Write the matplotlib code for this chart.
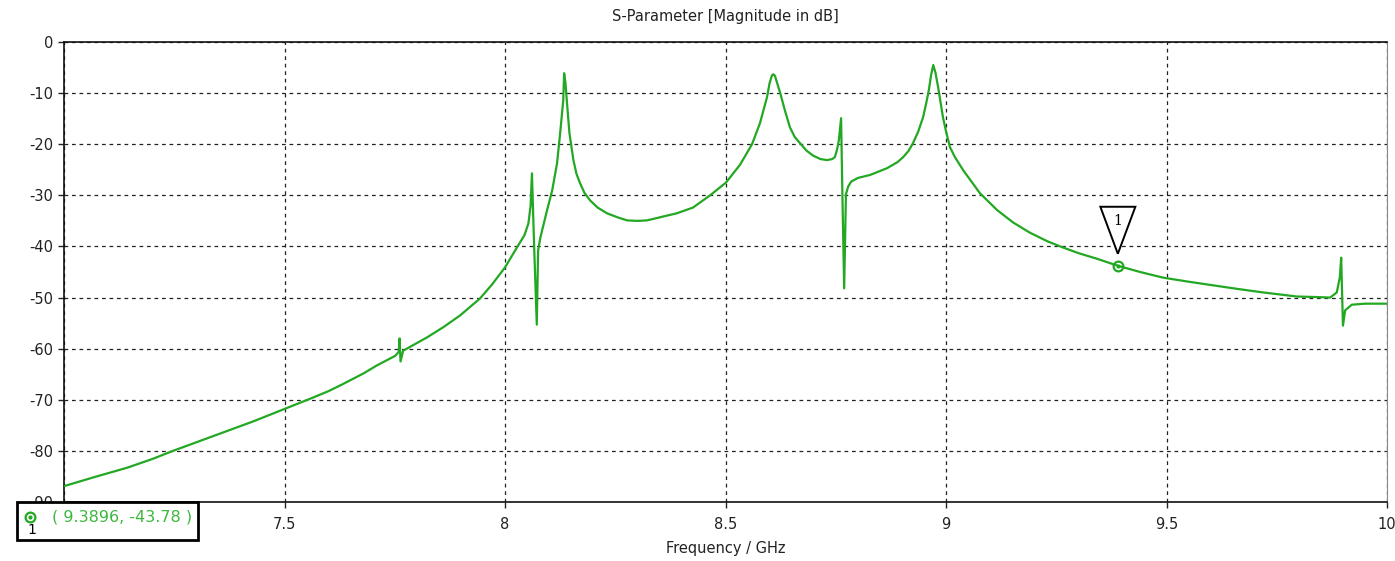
import numpy as np
import matplotlib
matplotlib.use("Agg")
import matplotlib.pyplot as plt
from matplotlib.patches import Polygon, Rectangle
from matplotlib.transforms import ScaledTranslation

# S-parameter trace (GHz, dB)
freq = [7.000, 7.070, 7.143, 7.200, 7.247, 7.310, 7.370, 7.430, 7.500,
        7.558, 7.600, 7.633, 7.680, 7.709, 7.751, 7.759, 7.761, 7.763,
        7.769, 7.823, 7.860, 7.898, 7.943, 7.970, 8.000, 8.027, 8.044,
        8.053, 8.058, 8.061, 8.066, 8.072, 8.075, 8.080, 8.084, 8.095,
        8.107, 8.118, 8.125, 8.132, 8.134, 8.137, 8.140, 8.146, 8.155,
        8.162, 8.170, 8.180, 8.193, 8.210, 8.231, 8.255, 8.277, 8.300,
        8.322, 8.351, 8.390, 8.426, 8.465, 8.501, 8.533, 8.560, 8.578,
        8.594, 8.600, 8.605, 8.608, 8.612, 8.617, 8.624, 8.635, 8.646,
        8.657, 8.669, 8.683, 8.698, 8.715, 8.730, 8.742, 8.748, 8.753,
        8.757, 8.762, 8.765, 8.769, 8.773, 8.778, 8.785, 8.800, 8.828,
        8.866, 8.890, 8.903, 8.915, 8.925, 8.937, 8.948, 8.955, 8.961,
        8.966, 8.971, 8.976, 8.982, 8.993, 9.000, 9.009, 9.020, 9.039,
        9.060, 9.077, 9.116, 9.152, 9.190, 9.230, 9.265, 9.300, 9.342,
        9.3896, 9.440, 9.492, 9.550, 9.605, 9.660, 9.719, 9.796, 9.840,
        9.871, 9.886, 9.893, 9.896, 9.900, 9.905, 9.920, 9.950, 10.000]
s_db = [-86.9, -85.1, -83.3, -81.6, -80.0, -78.0, -76.1, -74.2, -71.8,
        -69.8, -68.3, -66.9, -64.8, -63.3, -61.4, -60.6, -58.0, -62.5,
        -60.4, -57.8, -55.8, -53.5, -50.2, -47.5, -44.1, -40.2, -37.8,
        -35.5, -32.0, -25.7, -40.0, -55.3, -40.8, -38.3, -36.9, -33.0,
        -29.0, -23.7, -17.8, -11.4, -6.1, -8.0, -11.4, -17.8, -23.1,
        -25.8, -27.6, -29.5, -31.0, -32.4, -33.5, -34.3, -34.9, -35.0,
        -34.9, -34.3, -33.5, -32.4, -30.0, -27.5, -24.0, -20.0, -15.9,
        -10.8, -8.0, -6.6, -6.3, -6.6, -8.0, -10.0, -13.5, -16.7,
        -18.6, -19.8, -21.2, -22.2, -22.9, -23.1, -22.9, -22.5, -21.0,
        -19.2, -14.9, -30.0, -48.2, -29.8, -28.3, -27.3, -26.6, -26.0,
        -24.7, -23.5, -22.5, -21.3, -19.8, -17.5, -14.7, -12.0, -9.4,
        -6.5, -4.5, -6.0, -8.8, -14.7, -17.5, -20.6, -22.5, -25.1,
        -27.6, -29.6, -32.9, -35.3, -37.3, -39.0, -40.2, -41.3, -42.4,
        -43.78, -45.0, -46.1, -46.9, -47.6, -48.3, -49.0, -49.8, -49.9,
        -50.0, -49.0, -46.0, -42.2, -55.5, -52.5, -51.4, -51.2, -51.2]

marker_f = 9.3896
marker_db = -43.78
marker_label = "1"

xticks = [7, 7.5, 8, 8.5, 9, 9.5, 10]
xtick_labels = ["", "7.5", "8", "8.5", "9", "9.5", "10"]
yticks = [0, -10, -20, -30, -40, -50, -60, -70, -80, -90]

green = "#22a822"
text_green = "#3cb83c"

plt.rcParams["font.family"] = ["DejaVu Sans"]
plt.rcParams["axes.unicode_minus"] = False

fig = plt.figure(figsize=(13.95, 5.61), dpi=100)
ax = fig.add_axes([0.0459, 0.1052, 0.9484, 0.8199])

ax.plot(freq, s_db, color=green, lw=1.6, zorder=3)

ax.set_xlim(7, 10)
ax.set_ylim(-90, 0)
ax.set_xticks(xticks)
ax.set_xticklabels(xtick_labels)
ax.set_yticks(yticks)
ax.tick_params(labelsize=10.5, length=4, width=1, colors="#222222")
ax.tick_params(axis="x", pad=7)
ax.grid(True, color="#222222", linestyle=(0, (3, 3)), linewidth=0.9)
for side in ["top", "left", "bottom"]:
    ax.spines[side].set_color("#111111")
    ax.spines[side].set_linewidth(1.2)
ax.spines["right"].set_color("#888888")

ax.set_title("S-Parameter [Magnitude in dB]", fontsize=10.5, color="#222222", pad=15)
ax.set_xlabel("Frequency / GHz", fontsize=10.5, color="#222222", labelpad=6)

# marker 1 on the curve
ax.plot([marker_f], [marker_db], "o", ms=7, mfc="none", mec=green, mew=1.6, zorder=5)
ax.plot([marker_f], [marker_db], "o", ms=2, color=green, zorder=5)
trans = fig.dpi_scale_trans + ScaledTranslation(marker_f, marker_db, ax.transData)
tri = Polygon([(-0.175, 0.59), (0.175, 0.59), (0.0, 0.12)], closed=True,
              facecolor="white", edgecolor="black", lw=1.4, transform=trans, zorder=6)
ax.add_patch(tri)
ax.text(0, 0.45, marker_label, transform=trans, ha="center", va="center",
        fontsize=10, family="DejaVu Serif", zorder=7)

# marker readout box in the lower left corner
box = Rectangle((0.0122, 0.0374), 0.1297, 0.0677, transform=fig.transFigure,
                facecolor="white", edgecolor="black", lw=2, zorder=10)
fig.add_artist(box)
fig.add_artist(plt.Line2D([0.0215], [0.0784], marker="o", ms=7, mfc="none",
                          mec=green, mew=1.6, transform=fig.transFigure, zorder=11))
fig.add_artist(plt.Line2D([0.0215], [0.0784], marker="o", ms=2, color=green,
                          transform=fig.transFigure, zorder=11))
fig.text(0.023, 0.056, marker_label, fontsize=10, ha="center", va="center", zorder=11)
fig.text(0.0373, 0.0784, f"( {marker_f}, {marker_db} )", fontsize=11.5,
         color=text_green, ha="left", va="center", zorder=11)

fig.savefig("out.png", dpi=100)
